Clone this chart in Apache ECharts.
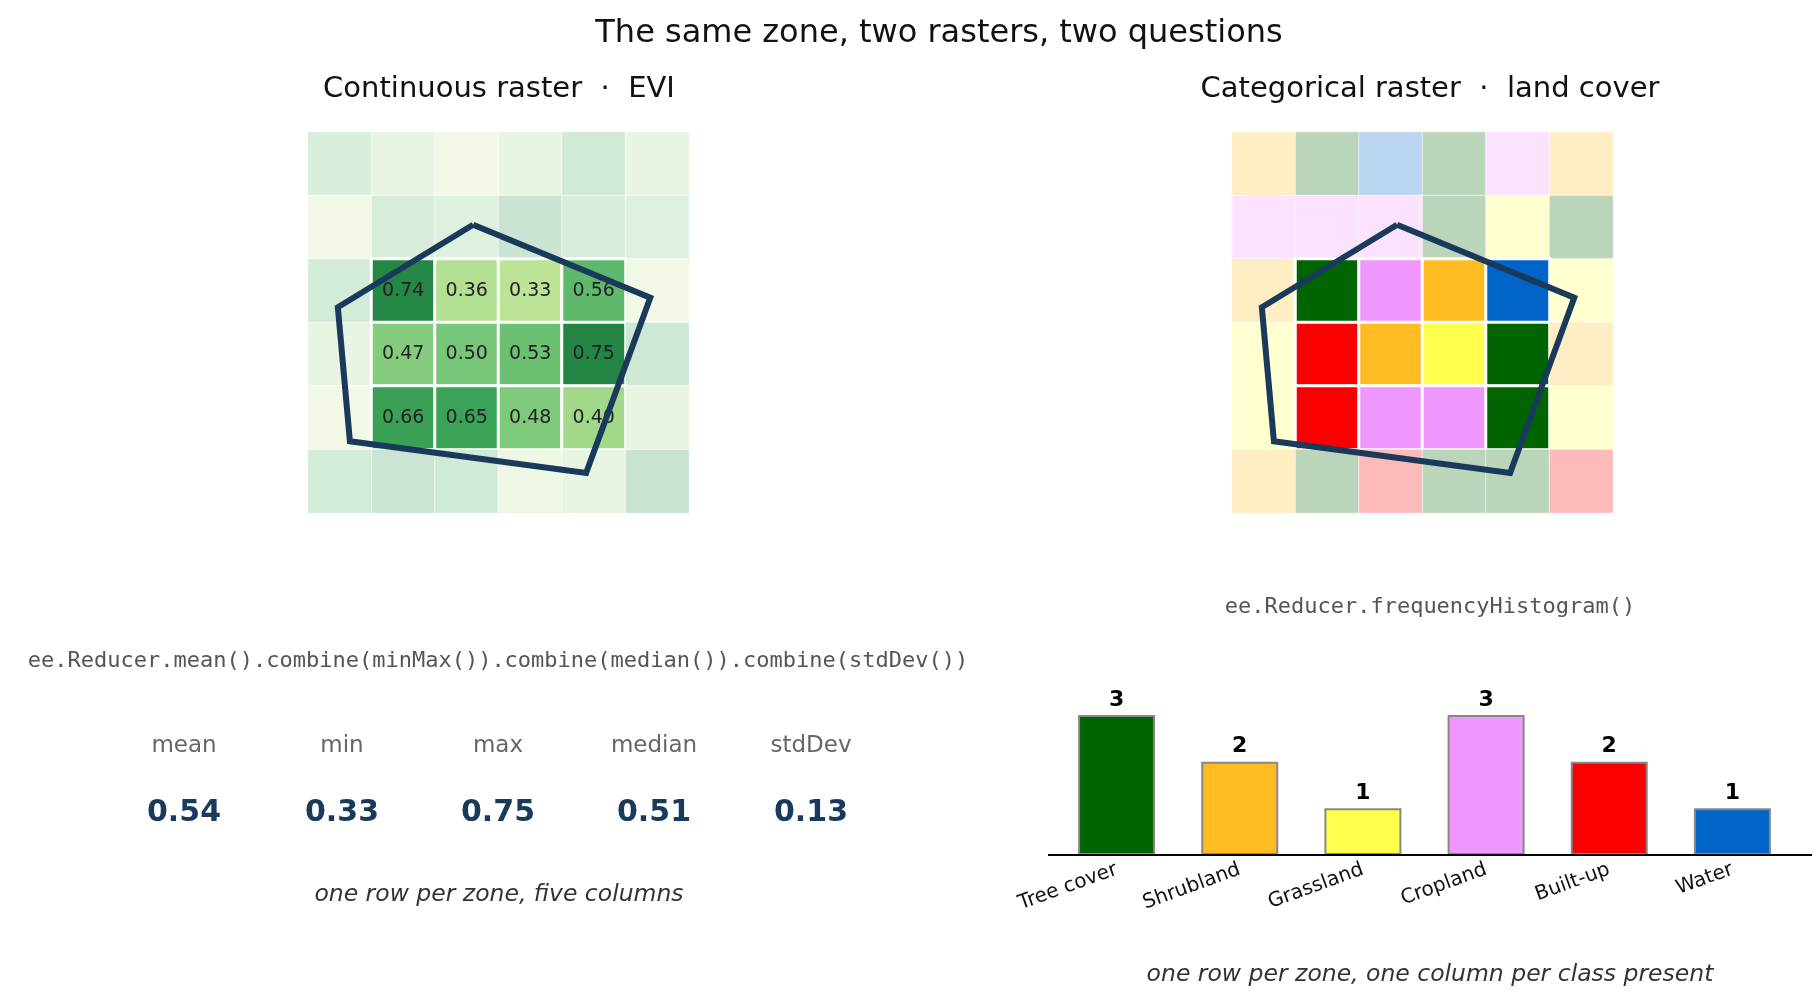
<!DOCTYPE html>
<html>
<head>
<meta charset="utf-8">
<style>html,body{margin:0;padding:0;background:#fff}#chart{width:1819px;height:1000px}</style>
<script src="https://cdn.jsdelivr.net/npm/echarts@6/dist/echarts.min.js"></script>
</head>
<body>
<div id="chart"></div>
<script>
// EVI raster, rows top -> bottom
var eviGrid = [
  [0.55, 0.40, 0.30, 0.40, 0.62, 0.40],
  [0.30, 0.55, 0.50, 0.72, 0.55, 0.50],
  [0.60, 0.74, 0.36, 0.33, 0.56, 0.30],
  [0.40, 0.47, 0.50, 0.53, 0.75, 0.65],
  [0.30, 0.66, 0.65, 0.48, 0.40, 0.40],
  [0.60, 0.70, 0.62, 0.35, 0.40, 0.72]
];
// land cover class index per cell (0 tree,1 shrub,2 grass,3 crop,4 built,5 water)
var lcGrid = [
  [1, 0, 5, 0, 3, 1],
  [3, 3, 3, 0, 2, 0],
  [1, 0, 3, 1, 5, 2],
  [2, 4, 1, 2, 0, 1],
  [2, 4, 3, 3, 0, 2],
  [1, 0, 4, 0, 0, 4]
];
// cells whose centre falls in the zone: rows 2-4, cols 1-4
var zoneRows = [2, 3, 4];
var zoneCols = [1, 2, 3, 4];
// zone polygon in cell units (x = column, y = row)
var zonePoly = [[2.60, 1.46], [5.39, 2.61], [4.38, 5.37], [0.66, 4.87], [0.47, 2.76], [2.60, 1.46]];

var classNames = ['Tree cover', 'Shrubland', 'Grassland', 'Cropland', 'Built-up', 'Water'];
var classColors = ['#006400', '#ffbb22', '#ffff4c', '#f096ff', '#fa0000', '#0064c8'];
var classCounts = [3, 2, 1, 3, 2, 1];

var statNames = ['mean', 'min', 'max', 'median', 'stdDev'];
var statValues = ['0.54', '0.33', '0.75', '0.51', '0.13'];

var ylgn = ['#ffffe5', '#f7fcb9', '#d9f0a3', '#addd8e', '#78c679', '#41ab5d', '#238443', '#006837', '#004529'];

function hex2rgb(h) {
  return [parseInt(h.substr(1, 2), 16), parseInt(h.substr(3, 2), 16), parseInt(h.substr(5, 2), 16)];
}
function rgb(c) { return 'rgb(' + c.map(function (v) { return Math.round(v); }).join(',') + ')'; }
function evalYlGn(t) {
  t = Math.max(0, Math.min(1, t)) * 8;
  var i = Math.min(7, Math.floor(t)), f = t - i;
  var a = hex2rgb(ylgn[i]), b = hex2rgb(ylgn[i + 1]);
  return [0, 1, 2].map(function (k) { return a[k] + (b[k] - a[k]) * f; });
}
function fade(c, a) { return c.map(function (v) { return 255 + (v - 255) * a; }); }
function inZone(r, c) { return zoneRows.indexOf(r) >= 0 && zoneCols.indexOf(c) >= 0; }

var eviData = [], lcData = [];
for (var r = 0; r < 6; r++) {
  for (var c = 0; c < 6; c++) {
    var z = inZone(r, c);
    var ec = evalYlGn(eviGrid[r][c]);
    var lc = hex2rgb(classColors[lcGrid[r][c]]);
    var st = z ? {color: rgb(ec), borderColor: '#fff', borderWidth: 3}
               : {color: rgb(fade(ec, 0.25)), borderColor: 'rgba(255,255,255,0.6)', borderWidth: 1};
    var st2 = z ? {color: rgb(lc), borderColor: '#fff', borderWidth: 3}
                : {color: rgb(fade(lc, 0.27)), borderColor: 'rgba(255,255,255,0.6)', borderWidth: 1};
    eviData.push({value: [c, r, eviGrid[r][c]], itemStyle: st,
      label: {show: z, formatter: eviGrid[r][c].toFixed(2)}});
    lcData.push({value: [c, r, lcGrid[r][c]], itemStyle: st2});
  }
}

var chart = echarts.init(document.getElementById('chart'));
var idx = [0, 1, 2, 3, 4, 5];
var font = 'DejaVu Sans';
var mono = 'DejaVu Sans Mono';

function catX(g) { return {type: 'category', gridIndex: g, data: idx, show: false}; }
function catY(g) { return {type: 'category', gridIndex: g, data: idx, inverse: true, show: false}; }
function valX(g) { return {type: 'value', gridIndex: g, min: 0, max: 6, show: false}; }
function valY(g) { return {type: 'value', gridIndex: g, min: 0, max: 6, inverse: true, show: false}; }

var graphics = [
  {type: 'text', x: 939, y: 34, style: {text: 'The same zone, two rasters, two questions', font: '32px ' + font, fill: '#111', align: 'center', verticalAlign: 'middle'}},
  {type: 'text', x: 499, y: 89, style: {text: 'Continuous raster  \u00b7  EVI', font: '29px ' + font, fill: '#111', align: 'center', verticalAlign: 'middle'}},
  {type: 'text', x: 1430, y: 89, style: {text: 'Categorical raster  \u00b7  land cover', font: '29px ' + font, fill: '#111', align: 'center', verticalAlign: 'middle'}},
  {type: 'text', x: 498, y: 661, style: {text: 'ee.Reducer.mean().combine(minMax()).combine(median()).combine(stdDev())', font: '22px ' + mono, fill: '#555', align: 'center', verticalAlign: 'middle'}},
  {type: 'text', x: 1430, y: 607, style: {text: 'ee.Reducer.frequencyHistogram()', font: '22px ' + mono, fill: '#555', align: 'center', verticalAlign: 'middle'}},
  {type: 'text', x: 499, y: 895, style: {text: 'one row per zone, five columns', font: 'italic 23.5px ' + font, fill: '#333', align: 'center', verticalAlign: 'middle'}},
  {type: 'text', x: 1430, y: 975, style: {text: 'one row per zone, one column per class present', font: 'italic 23.5px ' + font, fill: '#333', align: 'center', verticalAlign: 'middle'}},
  {type: 'line', shape: {x1: 1048, y1: 855, x2: 1812, y2: 855}, style: {stroke: '#000', lineWidth: 2}, z: 10}
];
var statX = [184, 342, 498, 654, 811];
statNames.forEach(function (n, i) {
  graphics.push({type: 'text', x: statX[i], y: 746, style: {text: n, font: '23px ' + font, fill: '#666', align: 'center', verticalAlign: 'middle'}});
  graphics.push({type: 'text', x: statX[i], y: 813, style: {text: statValues[i], font: 'bold 30px ' + font, fill: '#1a3a5c', align: 'center', verticalAlign: 'middle'}});
});

chart.setOption({
  animation: false,
  grid: [
    {left: 308, top: 132, width: 381, height: 381},
    {left: 1232, top: 132, width: 381, height: 381},
    {left: 1055, top: 715, width: 739, height: 140}
  ],
  xAxis: [catX(0), catX(1), valX(0), valX(1), {
    type: 'category', gridIndex: 2, data: classNames,
    axisLine: {lineStyle: {color: '#000', width: 2}},
    axisTick: {alignWithLabel: true, length: 7, lineStyle: {color: '#000', width: 2}},
    axisLabel: {rotate: 20, fontFamily: font, fontSize: 20, color: '#111', margin: 14, interval: 0}
  }],
  yAxis: [catY(0), catY(1), valY(0), valY(1), {type: 'value', gridIndex: 2, min: 0, max: 3, show: false}],
  series: [
    {type: 'heatmap', xAxisIndex: 0, yAxisIndex: 0, data: eviData,
      label: {fontFamily: font, fontSize: 19, color: '#222'}},
    {type: 'heatmap', xAxisIndex: 1, yAxisIndex: 1, data: lcData, label: {show: false}},
    {type: 'line', xAxisIndex: 2, yAxisIndex: 2, data: zonePoly, symbol: 'none', z: 5,
      lineStyle: {color: '#1a3a5c', width: 6, join: 'miter'}},
    {type: 'line', xAxisIndex: 3, yAxisIndex: 3, data: zonePoly, symbol: 'none', z: 5,
      lineStyle: {color: '#1a3a5c', width: 6, join: 'miter'}},
    {type: 'bar', xAxisIndex: 4, yAxisIndex: 4, barWidth: 77,
      data: classCounts.map(function (v, i) {
        return {value: v, itemStyle: {color: classColors[i], borderColor: '#888', borderWidth: 2}};
      }),
      label: {show: true, position: 'top', distance: 4, fontFamily: font, fontWeight: 'bold', fontSize: 22, color: '#000'}}
  ],
  graphic: graphics
});
</script>
</body>
</html>
